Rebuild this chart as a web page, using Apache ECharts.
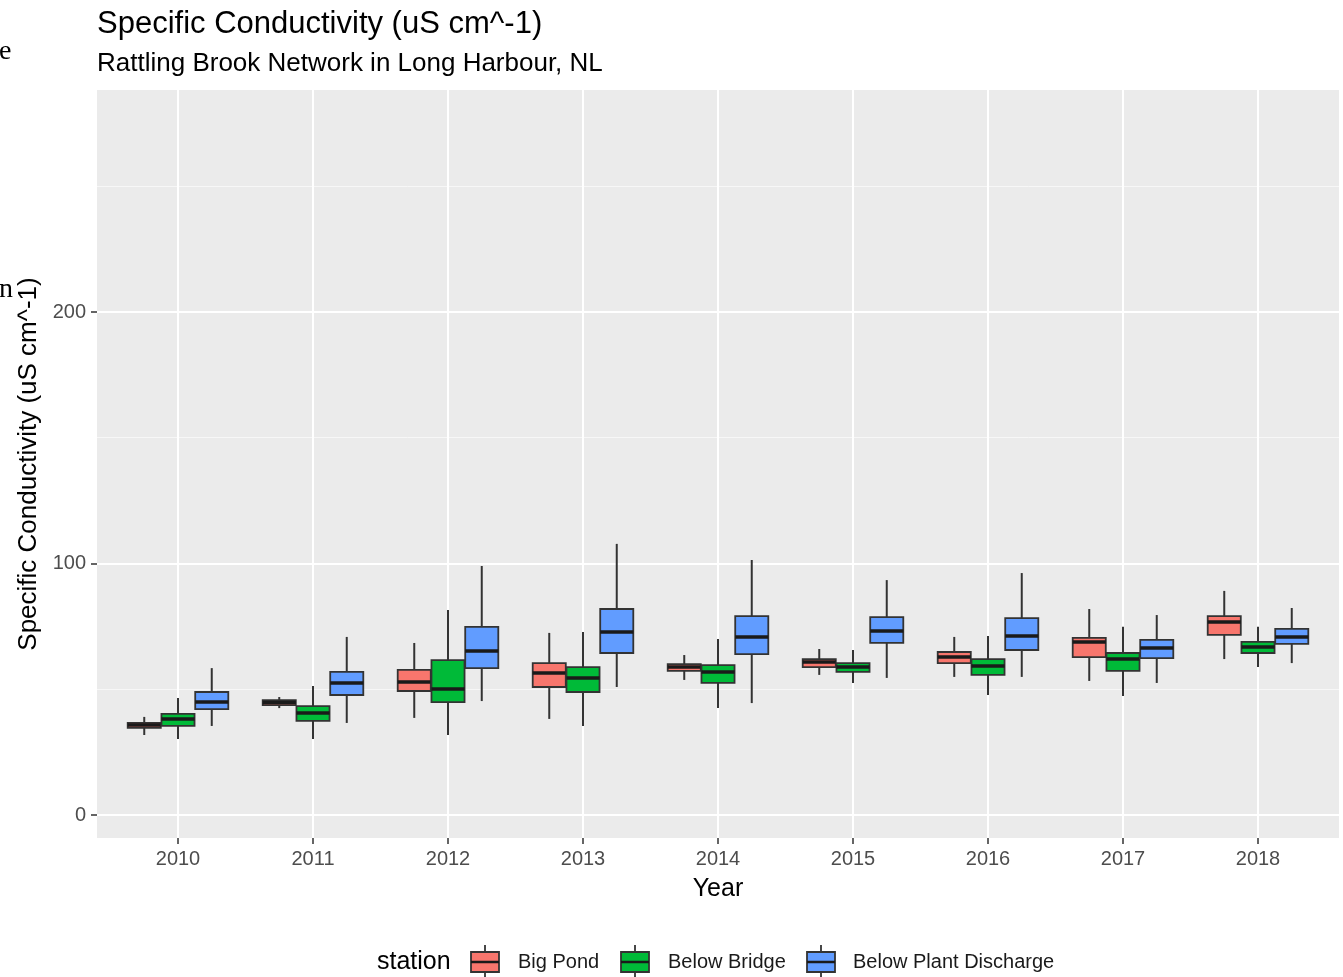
<!DOCTYPE html>
<html><head><meta charset="utf-8">
<script src="https://cdn.jsdelivr.net/npm/echarts@6/dist/echarts.min.js"></script>
<style>html,body{margin:0;padding:0;background:#fff}#c{width:1343px;height:977px}</style>
</head><body><div id="c"></div>
<script>
const years = ['2010','2011','2012','2013','2014','2015','2016','2017','2018'];
const stations = ['Big Pond','Below Bridge','Below Plant Discharge'];
const stationColors = ['#F8766D','#00BA38','#619CFF'];
const yTicks = [0, 100, 200];
const yMinorTicks = [50, 150, 250];
// each row: [lower whisker, Q1, median, Q3, upper whisker]
const bigPond = [
  [31.8, 34.6, 35.8, 36.6, 39.0],
  [42.5, 43.7, 44.7, 45.7, 46.9],
  [38.6, 49.3, 52.9, 57.7, 68.4],
  [38.2, 50.9, 56.5, 60.4, 72.4],
  [53.7, 57.3, 58.8, 60.0, 63.6],
  [55.7, 58.8, 60.8, 62.0, 66.0],
  [54.9, 60.4, 62.8, 64.8, 70.8],
  [53.3, 62.8, 68.8, 70.4, 81.9],
  [62.0, 71.6, 76.7, 79.1, 89.1]
];
const belowBridge = [
  [30.2, 35.4, 38.2, 40.2, 46.5],
  [30.2, 37.4, 40.6, 43.3, 51.3],
  [31.8, 44.9, 50.1, 61.6, 81.5],
  [35.4, 48.9, 54.5, 58.8, 72.8],
  [42.5, 52.5, 56.9, 59.6, 70.0],
  [52.5, 56.9, 58.8, 60.4, 65.6],
  [47.7, 55.7, 59.2, 62.0, 71.2],
  [47.3, 57.3, 62.0, 64.4, 74.8],
  [58.8, 64.4, 66.8, 68.8, 74.8]
];
const belowPlant = [
  [35.4, 42.1, 44.9, 48.9, 58.4],
  [36.6, 47.7, 52.5, 56.9, 70.8],
  [45.3, 58.4, 65.2, 74.8, 99.0],
  [50.9, 64.4, 72.8, 81.9, 107.8],
  [44.5, 64.0, 70.8, 79.1, 101.4],
  [54.5, 68.4, 73.2, 78.7, 93.4],
  [54.9, 65.6, 71.2, 78.3, 96.2],
  [52.5, 62.4, 66.4, 69.6, 79.5],
  [60.4, 68.0, 70.8, 74.0, 82.3]
];
const stationData = [bigPond, belowBridge, belowPlant];

const FONT = "'Liberation Sans', Arial, sans-serif";
const chart = echarts.init(document.getElementById('c'), null, {renderer: 'canvas'});

function makeRender(s) {
  return function (params, api) {
    const xc = api.value(0) + (s - 1) * 0.25;
    const halfW = api.size([0.245, 0])[0] / 2;
    const pLow = api.coord([xc, api.value(1)]);
    const pQ1 = api.coord([xc, api.value(2)]);
    const pMed = api.coord([xc, api.value(3)]);
    const pQ3 = api.coord([xc, api.value(4)]);
    const pHigh = api.coord([xc, api.value(5)]);
    const ls = {stroke: '#333333', lineWidth: 2};
    return {
      type: 'group',
      children: [
        {type: 'line', shape: {x1: pQ3[0], y1: pQ3[1], x2: pHigh[0], y2: pHigh[1]}, style: ls},
        {type: 'line', shape: {x1: pLow[0], y1: pLow[1], x2: pQ1[0], y2: pQ1[1]}, style: ls},
        {type: 'rect', shape: {x: pQ3[0] - halfW, y: pQ3[1], width: 2 * halfW, height: pQ1[1] - pQ3[1]},
          style: {fill: api.visual('color'), stroke: '#333333', lineWidth: 1.8}},
        {type: 'line', shape: {x1: pMed[0] - halfW, y1: pMed[1], x2: pMed[0] + halfW, y2: pMed[1]},
          style: {stroke: '#1a1a1a', lineWidth: 3.5}}
      ]
    };
  };
}

const series = stations.map((name, s) => ({
  name: name,
  type: 'custom',
  color: stationColors[s],
  renderItem: makeRender(s),
  encode: {x: 0, y: [1, 2, 3, 4, 5]},
  data: stationData[s].map((d, i) => [i].concat(d)),
  clip: false,
  z: 5
}));

// legend drawn as ggplot-style boxplot keys
const legendKeyX = [470, 620, 806];
const legendTextX = [518, 668, 853];
const legendCY = 962;
const legendGraphics = [
  {type: 'text', x: 377, y: legendCY, style: {text: 'station', font: "25px 'Liberation Sans', Arial, sans-serif", fill: '#000', textVerticalAlign: 'middle'}}
];
stations.forEach((name, s) => {
  const kx = legendKeyX[s];
  legendGraphics.push(
    {type: 'line', shape: {x1: kx + 15, y1: legendCY - 17, x2: kx + 15, y2: legendCY - 10}, style: {stroke: '#333333', lineWidth: 1.8}},
    {type: 'line', shape: {x1: kx + 15, y1: legendCY + 10, x2: kx + 15, y2: legendCY + 16}, style: {stroke: '#333333', lineWidth: 1.8}},
    {type: 'rect', shape: {x: kx + 1, y: legendCY - 10, width: 28, height: 20}, style: {fill: stationColors[s], stroke: '#333333', lineWidth: 1.8}},
    {type: 'line', shape: {x1: kx + 1, y1: legendCY, x2: kx + 29, y2: legendCY}, style: {stroke: '#1a1a1a', lineWidth: 2.5}},
    {type: 'text', x: legendTextX[s], y: legendCY, style: {text: name, font: "20px 'Liberation Sans', Arial, sans-serif", fill: '#1a1a1a', textVerticalAlign: 'middle'}}
  );
});

const yMin = -9.15, yMax = 288.27;

chart.setOption({
  animation: false,
  backgroundColor: '#ffffff',
  title: [
    {text: 'Specific Conductivity (uS cm^-1)', left: 97, top: 9, padding: 0,
      textStyle: {fontFamily: FONT, fontSize: 31, fontWeight: 'normal', color: '#000'}},
    {text: 'Rattling Brook Network in Long Harbour, NL', left: 97, top: 51, padding: 0,
      textStyle: {fontFamily: FONT, fontSize: 26, fontWeight: 'normal', color: '#000'}}
  ],
  grid: {left: 97, right: 4, top: 90, bottom: 139, show: true, backgroundColor: '#EBEBEB', borderWidth: 0, containLabel: false},
  graphic: legendGraphics.concat([
    {type: 'text', x: -1, y: 38, style: {text: 'e', font: "28px 'Liberation Serif', serif", fill: '#000'}},
    {type: 'text', x: -1, y: 276, style: {text: 'n', font: "28px 'Liberation Serif', serif", fill: '#000'}}
  ]),
  xAxis: {
    type: 'value', min: -0.6, max: 8.6,
    name: 'Year', nameLocation: 'middle', nameGap: 39,
    nameTextStyle: {fontFamily: FONT, fontSize: 25, color: '#000'},
    axisLine: {show: false, onZero: false},
    axisTick: {show: true, length: 6, lineStyle: {color: '#333333', width: 1.5}, customValues: years.map((y, i) => i)},
    axisLabel: {customValues: years.map((y, i) => i), formatter: v => years[Math.round(v)],
      fontFamily: FONT, fontSize: 20, color: '#4D4D4D', margin: 11},
    splitLine: {show: true, lineStyle: {color: '#ffffff', width: 2}}
  },
  yAxis: [
    {
      type: 'value', min: yMin, max: yMax,
      name: 'Specific Conductivity (uS cm^-1)', nameLocation: 'middle', nameGap: 47,
      nameTextStyle: {fontFamily: FONT, fontSize: 26, color: '#000'},
      axisLine: {show: false, onZero: false},
      axisTick: {show: true, length: 6, lineStyle: {color: '#333333', width: 1.5}, customValues: yTicks},
      axisLabel: {customValues: yTicks, fontFamily: FONT, fontSize: 20, color: '#4D4D4D', margin: 11},
      splitLine: {show: true, lineStyle: {color: '#ffffff', width: 2}}
    },
    {
      type: 'value', min: yMin, max: yMax, position: 'left',
      axisLine: {show: false, onZero: false},
      axisTick: {show: false, customValues: yMinorTicks},
      axisLabel: {show: false, customValues: yMinorTicks},
      splitLine: {show: true, lineStyle: {color: '#F7F7F7', width: 1}}
    }
  ],
  series: series
});
</script>
</body></html>
